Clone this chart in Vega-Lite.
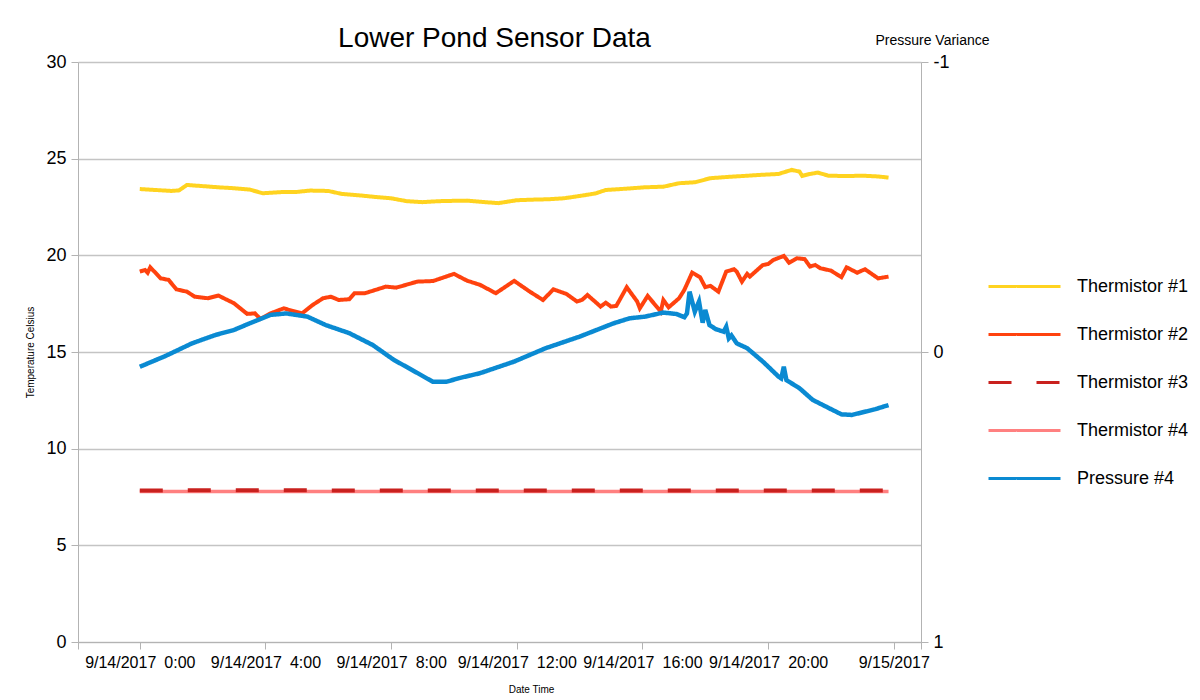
{
  "$schema": "https://vega.github.io/schema/vega-lite/v6.json",
  "width": 843,
  "height": 580,
  "autosize": "none",
  "padding": {"left": 78, "top": 62, "right": 279, "bottom": 58},
  "background": "white",
  "title": {"text": "Lower Pond Sensor Data", "fontSize": 28, "fontWeight": "normal", "anchor": "middle", "frame": "group", "baseline": "alphabetic", "offset": 16, "dy": 58, "dx": -5, "color": "black"},
  "data": {"values": [
    {"s":"Thermistor #1","t":"2017-09-14T00:00","v":23.43},
    {"s":"Thermistor #1","t":"2017-09-14T00:30","v":23.38},
    {"s":"Thermistor #1","t":"2017-09-14T01:00","v":23.33},
    {"s":"Thermistor #1","t":"2017-09-14T01:15","v":23.36},
    {"s":"Thermistor #1","t":"2017-09-14T01:30","v":23.64},
    {"s":"Thermistor #1","t":"2017-09-14T02:00","v":23.58},
    {"s":"Thermistor #1","t":"2017-09-14T02:30","v":23.52},
    {"s":"Thermistor #1","t":"2017-09-14T03:00","v":23.47},
    {"s":"Thermistor #1","t":"2017-09-14T03:30","v":23.40},
    {"s":"Thermistor #1","t":"2017-09-14T03:55","v":23.21},
    {"s":"Thermistor #1","t":"2017-09-14T04:30","v":23.27},
    {"s":"Thermistor #1","t":"2017-09-14T05:00","v":23.28},
    {"s":"Thermistor #1","t":"2017-09-14T05:25","v":23.35},
    {"s":"Thermistor #1","t":"2017-09-14T06:00","v":23.33},
    {"s":"Thermistor #1","t":"2017-09-14T06:25","v":23.18},
    {"s":"Thermistor #1","t":"2017-09-14T07:00","v":23.10},
    {"s":"Thermistor #1","t":"2017-09-14T07:30","v":23.02},
    {"s":"Thermistor #1","t":"2017-09-14T08:00","v":22.95},
    {"s":"Thermistor #1","t":"2017-09-14T08:30","v":22.80},
    {"s":"Thermistor #1","t":"2017-09-14T09:00","v":22.75},
    {"s":"Thermistor #1","t":"2017-09-14T09:30","v":22.80},
    {"s":"Thermistor #1","t":"2017-09-14T10:00","v":22.82},
    {"s":"Thermistor #1","t":"2017-09-14T10:25","v":22.83},
    {"s":"Thermistor #1","t":"2017-09-14T11:00","v":22.75},
    {"s":"Thermistor #1","t":"2017-09-14T11:25","v":22.70},
    {"s":"Thermistor #1","t":"2017-09-14T12:00","v":22.85},
    {"s":"Thermistor #1","t":"2017-09-14T12:30","v":22.88},
    {"s":"Thermistor #1","t":"2017-09-14T13:00","v":22.90},
    {"s":"Thermistor #1","t":"2017-09-14T13:30","v":22.95},
    {"s":"Thermistor #1","t":"2017-09-14T14:00","v":23.07},
    {"s":"Thermistor #1","t":"2017-09-14T14:30","v":23.20},
    {"s":"Thermistor #1","t":"2017-09-14T14:50","v":23.38},
    {"s":"Thermistor #1","t":"2017-09-14T15:30","v":23.45},
    {"s":"Thermistor #1","t":"2017-09-14T16:05","v":23.52},
    {"s":"Thermistor #1","t":"2017-09-14T16:40","v":23.55},
    {"s":"Thermistor #1","t":"2017-09-14T17:10","v":23.73},
    {"s":"Thermistor #1","t":"2017-09-14T17:40","v":23.78},
    {"s":"Thermistor #1","t":"2017-09-14T18:10","v":23.99},
    {"s":"Thermistor #1","t":"2017-09-14T18:40","v":24.05},
    {"s":"Thermistor #1","t":"2017-09-14T19:10","v":24.10},
    {"s":"Thermistor #1","t":"2017-09-14T19:45","v":24.16},
    {"s":"Thermistor #1","t":"2017-09-14T20:20","v":24.21},
    {"s":"Thermistor #1","t":"2017-09-14T20:45","v":24.42},
    {"s":"Thermistor #1","t":"2017-09-14T21:00","v":24.33},
    {"s":"Thermistor #1","t":"2017-09-14T21:05","v":24.11},
    {"s":"Thermistor #1","t":"2017-09-14T21:20","v":24.21},
    {"s":"Thermistor #1","t":"2017-09-14T21:35","v":24.28},
    {"s":"Thermistor #1","t":"2017-09-14T21:55","v":24.12},
    {"s":"Thermistor #1","t":"2017-09-14T22:30","v":24.10},
    {"s":"Thermistor #1","t":"2017-09-14T23:00","v":24.12},
    {"s":"Thermistor #1","t":"2017-09-14T23:30","v":24.08},
    {"s":"Thermistor #1","t":"2017-09-14T23:50","v":24.02},
    {"s":"Thermistor #2","t":"2017-09-14T00:00","v":19.16},
    {"s":"Thermistor #2","t":"2017-09-14T00:10","v":19.24},
    {"s":"Thermistor #2","t":"2017-09-14T00:15","v":19.10},
    {"s":"Thermistor #2","t":"2017-09-14T00:20","v":19.38},
    {"s":"Thermistor #2","t":"2017-09-14T00:40","v":18.81},
    {"s":"Thermistor #2","t":"2017-09-14T00:55","v":18.73},
    {"s":"Thermistor #2","t":"2017-09-14T01:10","v":18.24},
    {"s":"Thermistor #2","t":"2017-09-14T01:30","v":18.12},
    {"s":"Thermistor #2","t":"2017-09-14T01:45","v":17.86},
    {"s":"Thermistor #2","t":"2017-09-14T02:10","v":17.78},
    {"s":"Thermistor #2","t":"2017-09-14T02:30","v":17.92},
    {"s":"Thermistor #2","t":"2017-09-14T03:00","v":17.52},
    {"s":"Thermistor #2","t":"2017-09-14T03:25","v":16.97},
    {"s":"Thermistor #2","t":"2017-09-14T03:40","v":17.00},
    {"s":"Thermistor #2","t":"2017-09-14T03:50","v":16.71},
    {"s":"Thermistor #2","t":"2017-09-14T04:10","v":17.00},
    {"s":"Thermistor #2","t":"2017-09-14T04:35","v":17.26},
    {"s":"Thermistor #2","t":"2017-09-14T04:50","v":17.14},
    {"s":"Thermistor #2","t":"2017-09-14T05:10","v":17.00},
    {"s":"Thermistor #2","t":"2017-09-14T05:30","v":17.43},
    {"s":"Thermistor #2","t":"2017-09-14T05:50","v":17.78},
    {"s":"Thermistor #2","t":"2017-09-14T06:05","v":17.86},
    {"s":"Thermistor #2","t":"2017-09-14T06:20","v":17.69},
    {"s":"Thermistor #2","t":"2017-09-14T06:40","v":17.73},
    {"s":"Thermistor #2","t":"2017-09-14T06:50","v":18.04},
    {"s":"Thermistor #2","t":"2017-09-14T07:10","v":18.04},
    {"s":"Thermistor #2","t":"2017-09-14T07:50","v":18.38},
    {"s":"Thermistor #2","t":"2017-09-14T08:10","v":18.33},
    {"s":"Thermistor #2","t":"2017-09-14T08:50","v":18.64},
    {"s":"Thermistor #2","t":"2017-09-14T09:20","v":18.67},
    {"s":"Thermistor #2","t":"2017-09-14T10:00","v":19.04},
    {"s":"Thermistor #2","t":"2017-09-14T10:25","v":18.69},
    {"s":"Thermistor #2","t":"2017-09-14T10:50","v":18.47},
    {"s":"Thermistor #2","t":"2017-09-14T11:20","v":18.04},
    {"s":"Thermistor #2","t":"2017-09-14T11:55","v":18.68},
    {"s":"Thermistor #2","t":"2017-09-14T12:25","v":18.12},
    {"s":"Thermistor #2","t":"2017-09-14T12:50","v":17.69},
    {"s":"Thermistor #2","t":"2017-09-14T13:10","v":18.24},
    {"s":"Thermistor #2","t":"2017-09-14T13:35","v":18.00},
    {"s":"Thermistor #2","t":"2017-09-14T13:55","v":17.61},
    {"s":"Thermistor #2","t":"2017-09-14T14:05","v":17.70},
    {"s":"Thermistor #2","t":"2017-09-14T14:15","v":17.95},
    {"s":"Thermistor #2","t":"2017-09-14T14:40","v":17.35},
    {"s":"Thermistor #2","t":"2017-09-14T14:50","v":17.55},
    {"s":"Thermistor #2","t":"2017-09-14T15:00","v":17.35},
    {"s":"Thermistor #2","t":"2017-09-14T15:10","v":17.38},
    {"s":"Thermistor #2","t":"2017-09-14T15:30","v":18.35},
    {"s":"Thermistor #2","t":"2017-09-14T15:50","v":17.61},
    {"s":"Thermistor #2","t":"2017-09-14T15:55","v":17.26},
    {"s":"Thermistor #2","t":"2017-09-14T16:10","v":17.90},
    {"s":"Thermistor #2","t":"2017-09-14T16:35","v":17.09},
    {"s":"Thermistor #2","t":"2017-09-14T16:40","v":17.69},
    {"s":"Thermistor #2","t":"2017-09-14T16:50","v":17.31},
    {"s":"Thermistor #2","t":"2017-09-14T17:10","v":17.78},
    {"s":"Thermistor #2","t":"2017-09-14T17:20","v":18.21},
    {"s":"Thermistor #2","t":"2017-09-14T17:35","v":19.11},
    {"s":"Thermistor #2","t":"2017-09-14T17:50","v":18.87},
    {"s":"Thermistor #2","t":"2017-09-14T18:00","v":18.35},
    {"s":"Thermistor #2","t":"2017-09-14T18:10","v":18.42},
    {"s":"Thermistor #2","t":"2017-09-14T18:25","v":18.12},
    {"s":"Thermistor #2","t":"2017-09-14T18:40","v":19.16},
    {"s":"Thermistor #2","t":"2017-09-14T18:55","v":19.28},
    {"s":"Thermistor #2","t":"2017-09-14T19:00","v":19.16},
    {"s":"Thermistor #2","t":"2017-09-14T19:10","v":18.64},
    {"s":"Thermistor #2","t":"2017-09-14T19:20","v":19.04},
    {"s":"Thermistor #2","t":"2017-09-14T19:25","v":18.90},
    {"s":"Thermistor #2","t":"2017-09-14T19:50","v":19.50},
    {"s":"Thermistor #2","t":"2017-09-14T20:00","v":19.55},
    {"s":"Thermistor #2","t":"2017-09-14T20:10","v":19.76},
    {"s":"Thermistor #2","t":"2017-09-14T20:30","v":19.97},
    {"s":"Thermistor #2","t":"2017-09-14T20:40","v":19.62},
    {"s":"Thermistor #2","t":"2017-09-14T20:55","v":19.85},
    {"s":"Thermistor #2","t":"2017-09-14T21:10","v":19.80},
    {"s":"Thermistor #2","t":"2017-09-14T21:20","v":19.42},
    {"s":"Thermistor #2","t":"2017-09-14T21:30","v":19.50},
    {"s":"Thermistor #2","t":"2017-09-14T21:40","v":19.33},
    {"s":"Thermistor #2","t":"2017-09-14T22:00","v":19.21},
    {"s":"Thermistor #2","t":"2017-09-14T22:20","v":18.87},
    {"s":"Thermistor #2","t":"2017-09-14T22:30","v":19.38},
    {"s":"Thermistor #2","t":"2017-09-14T22:50","v":19.10},
    {"s":"Thermistor #2","t":"2017-09-14T23:05","v":19.28},
    {"s":"Thermistor #2","t":"2017-09-14T23:30","v":18.81},
    {"s":"Thermistor #2","t":"2017-09-14T23:50","v":18.90},
    {"s":"Thermistor #3","t":"2017-09-14T00:00","v":7.84},
    {"s":"Thermistor #3","t":"2017-09-14T04:00","v":7.85},
    {"s":"Thermistor #3","t":"2017-09-14T08:00","v":7.83},
    {"s":"Thermistor #3","t":"2017-09-14T12:00","v":7.84},
    {"s":"Thermistor #3","t":"2017-09-14T16:00","v":7.83},
    {"s":"Thermistor #3","t":"2017-09-14T20:00","v":7.83},
    {"s":"Thermistor #3","t":"2017-09-14T23:50","v":7.84},
    {"s":"Thermistor #4","t":"2017-09-14T00:00","v":7.78},
    {"s":"Thermistor #4","t":"2017-09-14T04:00","v":7.78},
    {"s":"Thermistor #4","t":"2017-09-14T08:00","v":7.78},
    {"s":"Thermistor #4","t":"2017-09-14T12:00","v":7.78},
    {"s":"Thermistor #4","t":"2017-09-14T16:00","v":7.78},
    {"s":"Thermistor #4","t":"2017-09-14T20:00","v":7.78},
    {"s":"Thermistor #4","t":"2017-09-14T23:50","v":7.78},
    {"s":"Pressure #4","t":"2017-09-14T00:00","v":0.051},
    {"s":"Pressure #4","t":"2017-09-14T00:50","v":0.013},
    {"s":"Pressure #4","t":"2017-09-14T01:40","v":-0.030},
    {"s":"Pressure #4","t":"2017-09-14T02:25","v":-0.059},
    {"s":"Pressure #4","t":"2017-09-14T03:00","v":-0.076},
    {"s":"Pressure #4","t":"2017-09-14T03:30","v":-0.099},
    {"s":"Pressure #4","t":"2017-09-14T04:10","v":-0.128},
    {"s":"Pressure #4","t":"2017-09-14T04:40","v":-0.133},
    {"s":"Pressure #4","t":"2017-09-14T05:20","v":-0.122},
    {"s":"Pressure #4","t":"2017-09-14T05:55","v":-0.093},
    {"s":"Pressure #4","t":"2017-09-14T06:40","v":-0.065},
    {"s":"Pressure #4","t":"2017-09-14T07:25","v":-0.024},
    {"s":"Pressure #4","t":"2017-09-14T08:05","v":0.027},
    {"s":"Pressure #4","t":"2017-09-14T08:40","v":0.062},
    {"s":"Pressure #4","t":"2017-09-14T09:20","v":0.103},
    {"s":"Pressure #4","t":"2017-09-14T09:45","v":0.103},
    {"s":"Pressure #4","t":"2017-09-14T10:10","v":0.090},
    {"s":"Pressure #4","t":"2017-09-14T10:50","v":0.073},
    {"s":"Pressure #4","t":"2017-09-14T11:55","v":0.033},
    {"s":"Pressure #4","t":"2017-09-14T12:55","v":-0.013},
    {"s":"Pressure #4","t":"2017-09-14T14:00","v":-0.053},
    {"s":"Pressure #4","t":"2017-09-14T15:05","v":-0.099},
    {"s":"Pressure #4","t":"2017-09-14T15:35","v":-0.116},
    {"s":"Pressure #4","t":"2017-09-14T16:05","v":-0.122},
    {"s":"Pressure #4","t":"2017-09-14T16:40","v":-0.136},
    {"s":"Pressure #4","t":"2017-09-14T17:05","v":-0.131},
    {"s":"Pressure #4","t":"2017-09-14T17:20","v":-0.120},
    {"s":"Pressure #4","t":"2017-09-14T17:25","v":-0.133},
    {"s":"Pressure #4","t":"2017-09-14T17:30","v":-0.208},
    {"s":"Pressure #4","t":"2017-09-14T17:40","v":-0.139},
    {"s":"Pressure #4","t":"2017-09-14T17:48","v":-0.174},
    {"s":"Pressure #4","t":"2017-09-14T17:55","v":-0.101},
    {"s":"Pressure #4","t":"2017-09-14T18:00","v":-0.145},
    {"s":"Pressure #4","t":"2017-09-14T18:08","v":-0.093},
    {"s":"Pressure #4","t":"2017-09-14T18:20","v":-0.079},
    {"s":"Pressure #4","t":"2017-09-14T18:35","v":-0.070},
    {"s":"Pressure #4","t":"2017-09-14T18:40","v":-0.087},
    {"s":"Pressure #4","t":"2017-09-14T18:45","v":-0.047},
    {"s":"Pressure #4","t":"2017-09-14T18:50","v":-0.057},
    {"s":"Pressure #4","t":"2017-09-14T19:00","v":-0.030},
    {"s":"Pressure #4","t":"2017-09-14T19:20","v":-0.013},
    {"s":"Pressure #4","t":"2017-09-14T19:50","v":0.033},
    {"s":"Pressure #4","t":"2017-09-14T20:20","v":0.085},
    {"s":"Pressure #4","t":"2017-09-14T20:25","v":0.091},
    {"s":"Pressure #4","t":"2017-09-14T20:30","v":0.051},
    {"s":"Pressure #4","t":"2017-09-14T20:35","v":0.097},
    {"s":"Pressure #4","t":"2017-09-14T21:00","v":0.125},
    {"s":"Pressure #4","t":"2017-09-14T21:25","v":0.165},
    {"s":"Pressure #4","t":"2017-09-14T22:00","v":0.197},
    {"s":"Pressure #4","t":"2017-09-14T22:20","v":0.215},
    {"s":"Pressure #4","t":"2017-09-14T22:40","v":0.217},
    {"s":"Pressure #4","t":"2017-09-14T23:05","v":0.206},
    {"s":"Pressure #4","t":"2017-09-14T23:25","v":0.197},
    {"s":"Pressure #4","t":"2017-09-14T23:50","v":0.183}
  ]},
  "encoding": {
    "x": {
      "field": "t", "type": "temporal",
      "scale": {"domain": [{"year": 2017, "month": 9, "date": 13, "hours": 22, "minutes": 2}, {"year": 2017, "month": 9, "date": 15, "hours": 0, "minutes": 52}]},
      "axis": {
        "title": "Date Time", "titleFont": "Liberation Sans", "titleFontSize": 10, "titleFontWeight": "normal", "titleColor": "black",
        "titleX": 453, "titleY": 50, "titleAlign": "center", "titleBaseline": "alphabetic",
        "values": [
          {"year": 2017, "month": 9, "date": 13, "hours": 22, "minutes": 2},
          {"year": 2017, "month": 9, "date": 14, "hours": 0},
          {"year": 2017, "month": 9, "date": 14, "hours": 4},
          {"year": 2017, "month": 9, "date": 14, "hours": 8},
          {"year": 2017, "month": 9, "date": 14, "hours": 12},
          {"year": 2017, "month": 9, "date": 14, "hours": 16},
          {"year": 2017, "month": 9, "date": 14, "hours": 20},
          {"year": 2017, "month": 9, "date": 15, "hours": 0},
          {"year": 2017, "month": 9, "date": 15, "hours": 0, "minutes": 52}
        ],
        "labelExpr": "minutes(datum.value) != 0 || hours(datum.value) == 22 ? '' : date(datum.value) == 15 ? '9/15/2017' : timeFormat(datum.value, '%-m/%-d/%Y') + '\u2002' + timeFormat(datum.value, '%-H:%M')",
        "labelFontSize": 16, "labelColor": "black", "labelPadding": 5, "labelOverlap": false, "labelFlush": false,
        "tickColor": "#b3b3b3", "tickSize": 7, "domainColor": "#b3b3b3", "grid": false
      }
    },
    "color": {
      "field": "s", "type": "nominal",
      "scale": {"domain": ["Thermistor #1", "Thermistor #2", "Thermistor #3", "Thermistor #4", "Pressure #4"], "range": ["#FFD320", "#FF420E", "#C9211E", "#FF8080", "#0A8AD2"]},
      "legend": {"title": null, "orient": "none", "legendX": 933, "legendY": 211}
    },
    "strokeDash": {
      "field": "s", "type": "nominal",
      "scale": {"domain": ["Thermistor #1", "Thermistor #2", "Thermistor #3", "Thermistor #4", "Pressure #4"], "range": [[1, 0], [1, 0], [23, 25], [1, 0], [1, 0]]},
      "legend": {"title": null, "orient": "none", "legendX": 933, "legendY": 211}
    }
  },
  "layer": [
    {
      "encoding": {
        "y": {
          "field": "v", "type": "quantitative",
          "scale": {"domain": [0, 30], "nice": false},
          "axis": {
            "orient": "left", "title": "Temperature Celsius", "titleFont": "Liberation Sans", "titleFontSize": 10, "titleFontWeight": "normal", "titleColor": "black",
            "titleX": -48, "titleY": 290, "titleAngle": 270, "titleAlign": "center", "titleBaseline": "middle",
            "values": [0, 5, 10, 15, 20, 25, 30],
            "labelFontSize": 18, "labelColor": "black", "labelPadding": 5,
            "tickSize": 7, "tickColor": "#b3b3b3", "domainColor": "#b3b3b3",
            "grid": true, "gridColor": "#c4c4c4", "gridWidth": 1.5
          }
        }
      },
      "layer": [
        {"transform": [{"filter": "datum.s == 'Thermistor #4'"}], "mark": {"type": "line", "strokeWidth": 3.5}},
        {"transform": [{"filter": "datum.s != 'Thermistor #4' && datum.s != 'Pressure #4'"}], "mark": {"type": "line", "strokeWidth": 4}}
      ]
    },
    {
      "transform": [{"filter": "datum.s == 'Pressure #4'"}],
      "mark": {"type": "line", "strokeWidth": 4.5},
      "encoding": {
        "y": {
          "field": "v", "type": "quantitative",
          "scale": {"domain": [-1, 1], "reverse": true, "nice": false},
          "axis": {
            "orient": "right", "title": "Pressure Variance", "titleFontSize": 14, "titleFontWeight": "normal", "titleColor": "black",
            "titleAngle": 0, "titleX": 11, "titleY": -18, "titleAlign": "center", "titleBaseline": "alphabetic",
            "values": [-1, 0, 1], "grid": false,
            "labelExpr": "datum.value < 0 ? '-1' : datum.value > 0 ? '1' : '0'",
            "labelFontSize": 18, "labelColor": "black", "labelPadding": 5,
            "tickSize": 7, "tickColor": "#b3b3b3", "domainColor": "#b3b3b3"
          }
        }
      }
    }
  ],
  "resolve": {"scale": {"y": "independent"}},
  "config": {
    "font": "Liberation Sans",
    "view": {"stroke": null},
    "legend": {
      "symbolType": "M-3,0H3", "symbolSize": 576, "symbolStrokeWidth": 3,
      "labelFontSize": 18, "labelColor": "black", "labelOffset": 39, "rowPadding": 25, "padding": 0
    }
  }
}
